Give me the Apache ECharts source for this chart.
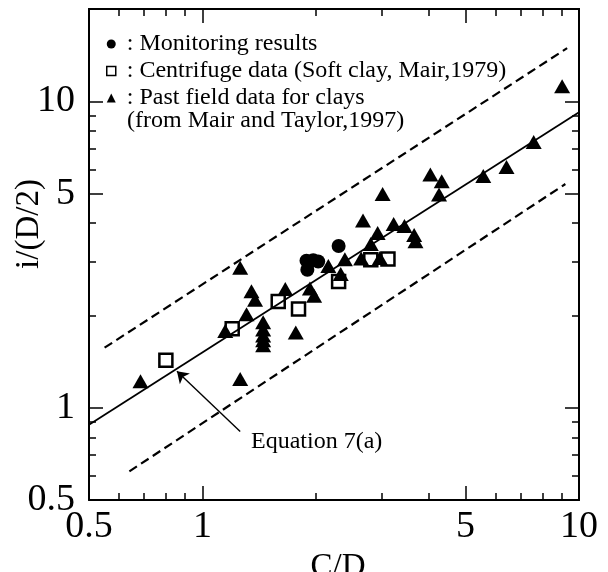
<!DOCTYPE html>
<html><head><meta charset="utf-8">
<script src="https://cdn.jsdelivr.net/npm/echarts@6/dist/echarts.min.js"></script>
<style>html,body{margin:0;padding:0;background:#fff}#c{width:608px;height:572px}</style>
</head><body><div id="c"></div>
<script>
// ---- data ----
const monitoringX = [1.89, 1.97, 2.03, 1.90, 2.30];
const monitoringY = [3.02, 3.03, 3.00, 2.82, 3.37];
const centrifugeX = [0.80, 1.20, 1.59, 1.80, 2.30, 2.80, 3.11];
const centrifugeY = [1.43, 1.81, 2.22, 2.10, 2.58, 3.04, 3.06];
const fieldX = [0.685, 1.15, 1.26, 1.35, 1.38, 1.31, 1.26, 1.45, 1.45, 1.45, 1.45, 1.45, 1.66, 1.77, 1.93, 1.98, 2.16, 2.33, 2.39, 2.64, 2.96, 2.67, 2.80, 2.92, 3.01, 3.22, 3.44, 3.65, 3.68, 4.03, 4.32, 4.25, 5.57, 6.42, 7.58, 9.02];
const fieldY = [1.22, 1.78, 2.86, 2.40, 2.25, 2.02, 1.24, 1.90, 1.80, 1.72, 1.66, 1.60, 2.44, 1.76, 2.45, 2.32, 2.90, 2.73, 3.05, 3.07, 3.08, 4.08, 3.42, 3.72, 4.98, 3.98, 3.92, 3.66, 3.49, 5.77, 5.48, 4.96, 5.70, 6.10, 7.37, 11.2];
const eqLineX = [0.5, 10];
const eqLineY = [0.88, 9.2];
const upperX = [0.55, 9.3];
const upperY = [1.57, 14.9];
const lowerX = [0.64, 9.2];
const lowerY = [0.62, 5.37];
const arrowX = [1.26, 0.856];
const arrowY = [0.837, 1.315];
const xLabels = [0.5, 1, 5, 10];
const yLabels = [0.5, 1, 5, 10];
const xMajorTicks = [1, 5];
const xMinorTicks = [0.6, 0.7, 0.8, 0.9, 2, 3, 4, 6, 7, 8, 9];
const yMajorTicks = [1, 5, 10];
const yMinorTicks = [0.6, 0.7, 0.8, 0.9, 2, 3, 4, 6, 7, 8, 9];
const seriesNames = ['Monitoring results', 'Centrifuge data (Soft clay, Mair,1979)', 'Past field data for clays'];
const legendExtra = '(from Mair and Taylor,1997)';
const xName = 'C/D';
const yName = 'i/(D/2)';
const eqText = 'Equation 7(a)';

// ---- chart ----
const FONT = '"Liberation Serif","Times New Roman",serif';
const zip = (a, b) => a.map((v, i) => [v, b[i]]);
const fmt = v => String(Math.round(v * 10) / 10);

function axis(dim, pos, ticks, len, withLabels) {
  const isX = dim === 'x';
  const a = {
    type: 'log', logBase: 10,
    min: 0.5, max: isX ? 10 : 20,
    position: pos,
    axisLine: { show: !!withLabels || pos === 'top' || pos === 'right', lineStyle: { color: '#000', width: 2 } },
    axisTick: { show: true, inside: true, length: len, customValues: ticks, lineStyle: { color: '#000', width: 1.5 } },
    axisLabel: { show: false },
    splitLine: { show: false },
    minorTick: { show: false },
    minorSplitLine: { show: false }
  };
  if (withLabels) {
    a.axisLabel = { show: true, customValues: isX ? xLabels : yLabels, formatter: fmt,
      fontFamily: FONT, fontSize: 38, color: '#000', margin: isX ? 8 : 14 };
    if (isX) {
      a.name = xName;
      a.nameLocation = 'middle';
      a.nameGap = 37;
      a.nameTextStyle = { fontFamily: FONT, fontSize: 33, color: '#000', padding: [0, 0, 0, 8] };
    }
  }
  return a;
}

const chart = echarts.init(document.getElementById('c'), null, { renderer: 'canvas' });
chart.setOption({
  animation: false,
  backgroundColor: '#fff',
  grid: { left: 89, right: 29, top: 9, bottom: 72, outerBoundsMode: 'none', containLabel: false },
  xAxis: [
    axis('x', 'bottom', xMajorTicks, 14, true),
    axis('x', 'bottom', xMinorTicks, 7, false),
    axis('x', 'top', xMajorTicks, 14, false),
    axis('x', 'top', xMinorTicks, 7, false)
  ],
  yAxis: [
    axis('y', 'left', yMajorTicks, 14, true),
    axis('y', 'left', yMinorTicks, 7, false),
    axis('y', 'right', yMajorTicks, 14, false),
    axis('y', 'right', yMinorTicks, 7, false)
  ],
  legend: {
    orient: 'vertical', left: 106, top: 32, padding: 0, itemGap: 3,
    itemWidth: 9, itemHeight: 9,
    textStyle: { fontFamily: FONT, fontSize: 24, color: '#000', padding: [0, 0, 0, 6] },
    formatter: n => ': ' + n,
    data: [
      { name: seriesNames[0] },
      { name: seriesNames[1], itemStyle: { borderWidth: 1.5 } },
      { name: seriesNames[2] }
    ],
    selectedMode: false
  },
  graphic: [
    { type: 'text', left: 127, top: 109, style: { text: legendExtra, font: '24px ' + FONT, fill: '#000' } },
    { type: 'text', left: 251, top: 430, style: { text: eqText, font: '24px ' + FONT, fill: '#000' } },
    { type: 'text', x: 29, y: 224, rotation: Math.PI / 2,
      style: { text: yName, font: '33px ' + FONT, fill: '#000', align: 'center', verticalAlign: 'middle' } }
  ],
  series: [
    { type: 'line', data: zip(upperX, upperY), symbol: 'none', silent: true,
      lineStyle: { color: '#000', width: 2.2, type: [9, 5] } },
    { type: 'line', data: zip(lowerX, lowerY), symbol: 'none', silent: true,
      lineStyle: { color: '#000', width: 2.2, type: [9, 5] } },
    { type: 'line', data: zip(eqLineX, eqLineY), symbol: 'none', silent: true,
      lineStyle: { color: '#000', width: 1.8 },
      markLine: { silent: true, symbol: ['none', 'arrow'], symbolSize: 11, label: { show: false },
        lineStyle: { color: '#000', width: 1.4, type: 'solid' },
        data: [[{ coord: [arrowX[0], arrowY[0]] }, { coord: [arrowX[1], arrowY[1]] }]] } },
    { name: seriesNames[0], type: 'scatter', data: zip(monitoringX, monitoringY), symbol: 'circle', symbolSize: 14,
      itemStyle: { color: '#000', opacity: 1 } },
    { name: seriesNames[1], type: 'scatter', data: zip(centrifugeX, centrifugeY), symbol: 'rect', symbolSize: 13,
      itemStyle: { color: '#fff', borderColor: '#000', borderWidth: 2.5, opacity: 1 } },
    { name: seriesNames[2], type: 'scatter', data: zip(fieldX, fieldY), symbol: 'triangle', symbolSize: [16, 14],
      itemStyle: { color: '#000', opacity: 1 } }
  ]
});
</script>
</body></html>
